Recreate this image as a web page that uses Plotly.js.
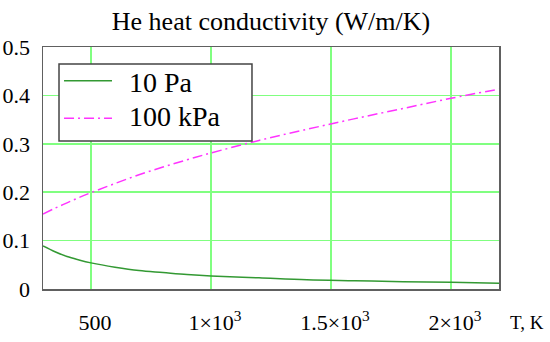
<!DOCTYPE html>
<html>
<head>
<meta charset="utf-8">
<script src="https://cdn.plot.ly/plotly-3.0.1.min.js"></script>
<style>
html,body{margin:0;padding:0;background:#fff;}
#chart{width:550px;height:342px;}
</style>
</head>
<body>
<div id="chart"></div>
<script>
const temperatureK = [300, 350, 400, 450, 500, 600, 700, 800, 900, 1000, 1200, 1400, 1600, 1800, 2000, 2200];
const k10Pa = [0.089, 0.077, 0.067, 0.060, 0.054, 0.045, 0.038, 0.034, 0.030, 0.027, 0.023, 0.019, 0.017, 0.015, 0.014, 0.012];
const k100kPa = [0.155, 0.167, 0.178, 0.189, 0.199, 0.218, 0.236, 0.252, 0.267, 0.281, 0.307, 0.330, 0.352, 0.373, 0.394, 0.413];
const seriesNames = ["10 Pa", "100 kPa"];
const xTickVals = [500, 1000, 1500, 2000];
const xTickText = ["500", "1×10<sup>3</sup>", "1.5×10<sup>3</sup>", "2×10<sup>3</sup>"];
const yTickVals = [0, 0.1, 0.2, 0.3, 0.4, 0.5];
const yTickText = ["0", "0.1", "0.2", "0.3", "0.4", "0.5"];

const serif = "Liberation Serif";
const greenColor = "#339933";
const magentaColor = "#ff33ff";
const magentaDash = "10px,4px,2px,4px";

const traces = [
  {x: temperatureK, y: k10Pa, name: seriesNames[0], mode: "lines",
   line: {color: greenColor, width: 1.5, shape: "spline"}},
  {x: temperatureK, y: k100kPa, name: seriesNames[1], mode: "lines",
   line: {color: magentaColor, width: 1.5, dash: magentaDash, shape: "spline"}}
];

const layout = {
  width: 550, height: 342,
  margin: {l: 43, r: 51, t: 47, b: 53, pad: 0},
  paper_bgcolor: "#fff", plot_bgcolor: "#fff",
  font: {family: serif, color: "#000", size: 22},
  title: {text: "He heat conductivity (W/m/K)", font: {family: serif, size: 26, color: "#000"},
          x: 0.5, xref: "paper", xanchor: "center", y: 0.94, yref: "container", yanchor: "middle"},
  xaxis: {range: [300, 2200], tickvals: xTickVals, ticktext: xTickText,
          showgrid: true, gridcolor: "#80ff80", gridwidth: 1.5, zeroline: false,
          showline: true, mirror: true, linecolor: "#606060", linewidth: 1.5,
          ticks: "", ticklabelstandoff: 13, ticklabelshift: 4,
          tickfont: {family: serif, size: 22, color: "#000"}},
  yaxis: {range: [0, 0.5], tickvals: yTickVals, ticktext: yTickText,
          showgrid: true, gridcolor: "#80ff80", gridwidth: 1.5, zeroline: false,
          showline: true, mirror: true, linecolor: "#606060", linewidth: 1.5,
          ticks: "", ticklabelstandoff: 7,
          tickfont: {family: serif, size: 22, color: "#000"}},
  showlegend: false,
  shapes: [
    {type: "rect", xref: "paper", yref: "paper", x0: 0.0351, x1: 0.4583, y0: 0.6116, y1: 0.9298,
     fillcolor: "#fff", line: {color: "#444", width: 1.5}, layer: "above"},
    {type: "line", xref: "paper", yref: "paper", x0: 0.0461, x1: 0.1513, y0: 0.8607, y1: 0.8607,
     line: {color: greenColor, width: 1.5}, layer: "above"},
    {type: "line", xref: "paper", yref: "paper", x0: 0.0461, x1: 0.1513, y0: 0.7054, y1: 0.7054,
     line: {color: magentaColor, width: 1.5, dash: magentaDash}, layer: "above"}
  ],
  annotations: [
    {text: seriesNames[0], xref: "paper", yref: "paper", x: 0.1842, y: 0.855,
     xanchor: "left", yanchor: "middle", showarrow: false,
     font: {family: serif, size: 28, color: "#000"}},
    {text: seriesNames[1], xref: "paper", yref: "paper", x: 0.1842, y: 0.7125,
     xanchor: "left", yanchor: "middle", showarrow: false,
     font: {family: serif, size: 28, color: "#000"}},
    {text: "T, K", xref: "paper", yref: "paper", x: 1.02, y: -0.139,
     xanchor: "left", yanchor: "middle", showarrow: false,
     font: {family: serif, size: 19, color: "#000"}}
  ]
};

Plotly.newPlot("chart", traces, layout, {displayModeBar: false, staticPlot: true});
</script>
</body>
</html>
